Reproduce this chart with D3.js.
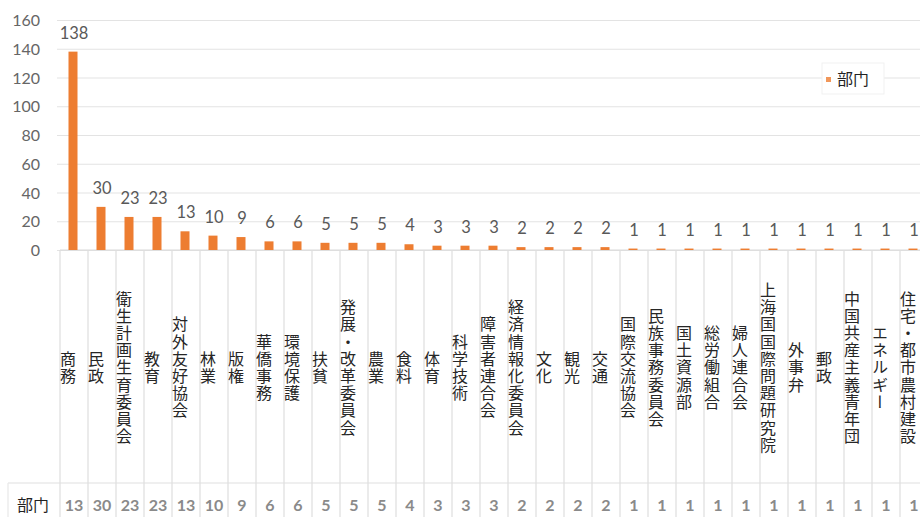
<!DOCTYPE html>
<html>
<head>
<meta charset="utf-8">
<script src="https://cdn.jsdelivr.net/npm/d3@7"></script>
<style>
  html, body { margin: 0; padding: 0; background: #fff; }
  svg { display: block; }
</style>
</head>
<body>
<svg id="chart" width="920" height="517"></svg>
<script>
// Department counts, drawn as a column chart with a data table underneath
const seriesName = "部门";
const categories = [
  "商務", "民政", "衛生計画生育委員会", "教育", "対外友好協会", "林業", "版権",
  "華僑事務", "環境保護", "扶貧", "発展・改革委員会", "農業", "食料", "体育",
  "科学技術", "障害者連合会", "経済情報化委員会", "文化", "観光", "交通",
  "国際交流協会", "民族事務委員会", "国土資源部", "総労働組合", "婦人連合会",
  "上海国国際問題研究院", "外事弁", "郵政", "中国共産主義青年団", "エネルギー",
  "住宅・都市農村建設"
];
const values = [138, 30, 23, 23, 13, 10, 9, 6, 6, 5, 5, 5, 4, 3, 3, 3, 2, 2, 2, 2,
  1, 1, 1, 1, 1, 1, 1, 1, 1, 1, 1];
const yTicks = [0, 20, 40, 60, 80, 100, 120, 140, 160];

const W = 920, H = 517;
const plotLeft = 60, colW = 28;
const axisY = 250, topY = 20;
const tableTop = 483;
const barColor = "#ED7D31";
const numFont = "Lato, 'Open Sans', sans-serif";
const cjkFont = "'Noto Sans CJK JP', 'Noto Sans CJK SC', sans-serif";

const svg = d3.select("#chart");
svg.append("rect").attr("width", W).attr("height", H).attr("fill", "#fff");

const x = d3.scaleBand()
  .domain(categories)
  .range([plotLeft, plotLeft + colW * categories.length])
  .paddingInner(0).paddingOuter(0);
const y = d3.scaleLinear().domain([0, 160]).range([axisY, topY]);

// Horizontal gridlines and value axis labels
const yAxis = d3.axisLeft(y)
  .tickValues(yTicks)
  .tickSize(-(W - 57))
  .tickPadding(20);
const yG = svg.append("g").attr("transform", "translate(57,0)").call(yAxis);
yG.select(".domain").remove();
yG.selectAll(".tick line").attr("stroke", "#e3e3e3").attr("stroke-width", 1.2);
yG.selectAll(".tick text")
  .attr("x", -17)
  .attr("dy", "0.35em")
  .attr("fill", "#666")
  .style("font-family", numFont)
  .style("font-size", "16px");

// Category axis baseline
svg.append("line")
  .attr("x1", plotLeft).attr("x2", W)
  .attr("y1", axisY).attr("y2", axisY)
  .attr("stroke", "#d9d9d9").attr("stroke-width", 1.2);

// Cell borders of the category / data-table area
const edges = categories.map(c => x(c)).concat([x.range()[1]]);
svg.append("g").selectAll("line")
  .data(edges)
  .join("line")
  .attr("x1", d => d).attr("x2", d => d)
  .attr("y1", axisY).attr("y2", H)
  .attr("stroke", "#dedede").attr("stroke-width", 1.2);

svg.append("line")
  .attr("x1", 8).attr("x2", W)
  .attr("y1", tableTop).attr("y2", tableTop)
  .attr("stroke", "#e0e0e0").attr("stroke-width", 1.2);
svg.append("line")
  .attr("x1", 8).attr("x2", 8)
  .attr("y1", tableTop).attr("y2", H)
  .attr("stroke", "#e8e8e8").attr("stroke-width", 1.2);

// Bars
const barW = 9;
svg.append("g").selectAll("rect")
  .data(values)
  .join("rect")
  .attr("x", (d, i) => x(categories[i]) + (colW - barW) / 2 - 1)
  .attr("y", d => y(d))
  .attr("width", barW)
  .attr("height", d => y(0) - y(d))
  .attr("fill", barColor);

// Value labels above bars
svg.append("g").selectAll("text")
  .data(values)
  .join("text")
  .attr("x", (d, i) => x(categories[i]) + colW / 2)
  .attr("y", d => y(d) - 13)
  .attr("text-anchor", "middle")
  .attr("fill", "#595959")
  .style("font-family", numFont)
  .style("font-size", "16.5px")
  .text(d => d);

// Vertical category names
svg.append("g").selectAll("text")
  .data(categories)
  .join("text")
  .attr("x", d => x(d) + colW / 2 - 6)
  .attr("y", 368)
  .attr("text-anchor", "middle")
  .style("writing-mode", "vertical-rl")
  .style("font-family", cjkFont)
  .style("font-size", "16px")
  .style("letter-spacing", "1.2px")
  .attr("fill", "#262626")
  .text(d => d);

// Data table row
svg.append("text")
  .attr("x", 17).attr("y", 511)
  .style("font-family", cjkFont)
  .style("font-size", "16px")
  .attr("fill", "#222")
  .text(seriesName);

const cells = svg.append("g").selectAll("text")
  .data(values)
  .join("text")
  .attr("x", (d, i) => x(categories[i]) + colW / 2)
  .attr("y", 511)
  .attr("text-anchor", "middle")
  .attr("fill", "#8a8a8a")
  .style("font-family", numFont)
  .style("font-size", "16px")
  .style("font-weight", "700")
  .text(d => String(d));

// A number wider than its cell wraps; only its first line stays visible
cells.each(function(d) {
  const el = d3.select(this);
  let s = String(d);
  while (s.length > 1 && this.getComputedTextLength() > colW - 6) {
    s = s.slice(0, -1);
    el.text(s);
  }
});

// Legend
const lg = svg.append("g").attr("transform", "translate(822,63)");
lg.append("rect")
  .attr("width", 62).attr("height", 31)
  .attr("fill", "#fff")
  .attr("stroke", "#f1f1f1");
lg.append("rect")
  .attr("x", 4).attr("y", 14)
  .attr("width", 5).attr("height", 5)
  .attr("fill", barColor).attr("opacity", 0.8);
lg.append("text")
  .attr("x", 15).attr("y", 22)
  .style("font-family", cjkFont)
  .style("font-size", "16px")
  .attr("fill", "#222")
  .text(seriesName);
</script>
</body>
</html>
